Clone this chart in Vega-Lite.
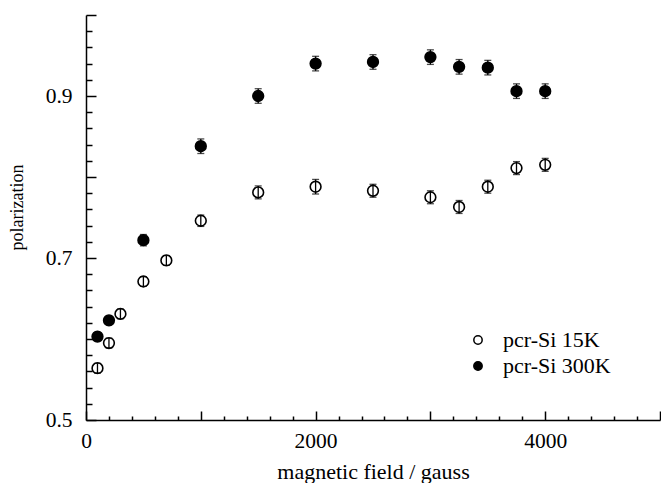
{
  "$schema": "https://vega.github.io/schema/vega-lite/v6.json",
  "width": 574,
  "height": 405,
  "autosize": "none",
  "padding": {"left": 86, "top": 15, "right": 1, "bottom": 63},
  "background": "white",
  "config": {
    "view": {"stroke": null},
    "font": "Liberation Serif",
    "axis": {
      "domainColor": "black", "domainWidth": 1.5, "tickColor": "black", "tickWidth": 1.5,
      "labelFont": "Liberation Serif", "labelFontSize": 21.5, "labelColor": "black",
      "titleFont": "Liberation Serif", "titleFontSize": 22, "titleFontWeight": "normal", "titleColor": "black",
      "grid": false, "labelFlush": false, "labelOverlap": false
    }
  },
  "data": {
    "values": [
      {"series": "pcr-Si 15K", "field": 100, "pol": 0.564, "lo": 0.558, "hi": 0.570},
      {"series": "pcr-Si 15K", "field": 200, "pol": 0.595, "lo": 0.589, "hi": 0.601},
      {"series": "pcr-Si 15K", "field": 300, "pol": 0.631, "lo": 0.625, "hi": 0.637},
      {"series": "pcr-Si 15K", "field": 500, "pol": 0.671, "lo": 0.665, "hi": 0.677},
      {"series": "pcr-Si 15K", "field": 700, "pol": 0.697, "lo": 0.691, "hi": 0.703},
      {"series": "pcr-Si 15K", "field": 1000, "pol": 0.746, "lo": 0.739, "hi": 0.753},
      {"series": "pcr-Si 15K", "field": 1500, "pol": 0.781, "lo": 0.773, "hi": 0.789},
      {"series": "pcr-Si 15K", "field": 2000, "pol": 0.788, "lo": 0.779, "hi": 0.797},
      {"series": "pcr-Si 15K", "field": 2500, "pol": 0.783, "lo": 0.775, "hi": 0.791},
      {"series": "pcr-Si 15K", "field": 3000, "pol": 0.775, "lo": 0.767, "hi": 0.783},
      {"series": "pcr-Si 15K", "field": 3250, "pol": 0.763, "lo": 0.755, "hi": 0.771},
      {"series": "pcr-Si 15K", "field": 3500, "pol": 0.788, "lo": 0.780, "hi": 0.796},
      {"series": "pcr-Si 15K", "field": 3750, "pol": 0.811, "lo": 0.803, "hi": 0.819},
      {"series": "pcr-Si 15K", "field": 4000, "pol": 0.815, "lo": 0.807, "hi": 0.823},
      {"series": "pcr-Si 300K", "field": 100, "pol": 0.603, "lo": 0.598, "hi": 0.608},
      {"series": "pcr-Si 300K", "field": 200, "pol": 0.623, "lo": 0.618, "hi": 0.628},
      {"series": "pcr-Si 300K", "field": 500, "pol": 0.722, "lo": 0.715, "hi": 0.729},
      {"series": "pcr-Si 300K", "field": 1000, "pol": 0.838, "lo": 0.829, "hi": 0.847},
      {"series": "pcr-Si 300K", "field": 1500, "pol": 0.900, "lo": 0.891, "hi": 0.909},
      {"series": "pcr-Si 300K", "field": 2000, "pol": 0.940, "lo": 0.931, "hi": 0.949},
      {"series": "pcr-Si 300K", "field": 2500, "pol": 0.942, "lo": 0.933, "hi": 0.951},
      {"series": "pcr-Si 300K", "field": 3000, "pol": 0.948, "lo": 0.939, "hi": 0.957},
      {"series": "pcr-Si 300K", "field": 3250, "pol": 0.936, "lo": 0.927, "hi": 0.945},
      {"series": "pcr-Si 300K", "field": 3500, "pol": 0.935, "lo": 0.926, "hi": 0.944},
      {"series": "pcr-Si 300K", "field": 3750, "pol": 0.906, "lo": 0.897, "hi": 0.915},
      {"series": "pcr-Si 300K", "field": 4000, "pol": 0.906, "lo": 0.897, "hi": 0.915}
    ]
  },
  "resolve": {"axis": {"x": "independent", "y": "independent"}},
  "layer": [
    {
      "mark": {"type": "rule", "color": "black", "strokeWidth": 1.3},
      "encoding": {
        "x": {
          "field": "field", "type": "quantitative",
          "scale": {"domain": [0, 5000], "nice": false, "zero": false},
          "axis": {
            "orient": "bottom", "title": null, "labels": false, "domain": false, "tickSize": -4,
            "values": [200,400,600,800,1200,1400,1600,1800,2200,2400,2600,2800,3200,3400,3600,3800,4200,4400,4600,4800]
          }
        },
        "y": {
          "field": "lo", "type": "quantitative",
          "scale": {"domain": [0.5, 1.0], "nice": false, "zero": false},
          "axis": {
            "orient": "left", "title": null, "labels": false, "domain": false, "tickSize": -6,
            "values": [0.52,0.54,0.56,0.58,0.62,0.64,0.66,0.68,0.72,0.74,0.76,0.78,0.82,0.84,0.86,0.88,0.92,0.94,0.96,0.98]
          }
        },
        "y2": {"field": "hi"}
      }
    },
    {
      "mark": {"type": "tick", "orient": "horizontal", "color": "black", "size": 7, "thickness": 1.3},
      "encoding": {
        "x": {"field": "field", "type": "quantitative", "axis": null},
        "y": {"field": "lo", "type": "quantitative", "axis": null}
      }
    },
    {
      "mark": {"type": "tick", "orient": "horizontal", "color": "black", "size": 7, "thickness": 1.3},
      "encoding": {
        "x": {"field": "field", "type": "quantitative", "axis": null},
        "y": {"field": "hi", "type": "quantitative", "axis": null}
      }
    },
    {
      "mark": {"type": "point", "shape": "circle", "filled": true, "size": 115, "stroke": "black", "strokeWidth": 1.6, "opacity": 1},
      "encoding": {
        "x": {
          "field": "field", "type": "quantitative",
          "axis": {
            "orient": "bottom",
            "title": "magnetic field / gauss",
            "titleColor": "black",
            "values": [0, 1000, 2000, 3000, 4000, 5000],
            "format": "d",
            "labelExpr": "datum.value % 2000 === 0 ? datum.label : ''",
            "tickSize": -9,
            "labelPadding": 19,
            "titlePadding": 10
          }
        },
        "y": {
          "field": "pol", "type": "quantitative",
          "axis": {
            "orient": "left",
            "title": "polarization",
            "titleColor": "black",
            "titleFontSize": 18,
            "titleY": 192,
            "values": [0.5, 0.6, 0.7, 0.8, 0.9, 1.0],
            "format": ".1f",
            "labelExpr": "(round(datum.value*10) % 2 === 1) ? datum.label : ''",
            "tickSize": -10,
            "labelPadding": 24,
            "titlePadding": 19
          }
        },
        "fill": {
          "field": "series", "type": "nominal",
          "scale": {"domain": ["pcr-Si 15K", "pcr-Si 300K"], "range": ["transparent", "black"]},
          "legend": {
            "title": null, "orient": "none", "legendX": 381, "legendY": 314,
            "symbolSize": 70, "symbolStrokeColor": "black", "symbolStrokeWidth": 1.5,
            "labelFont": "Liberation Serif", "labelFontSize": 22, "labelColor": "black",
            "labelOffset": 14, "rowPadding": 4
          }
        }
      }
    }
  ]
}
